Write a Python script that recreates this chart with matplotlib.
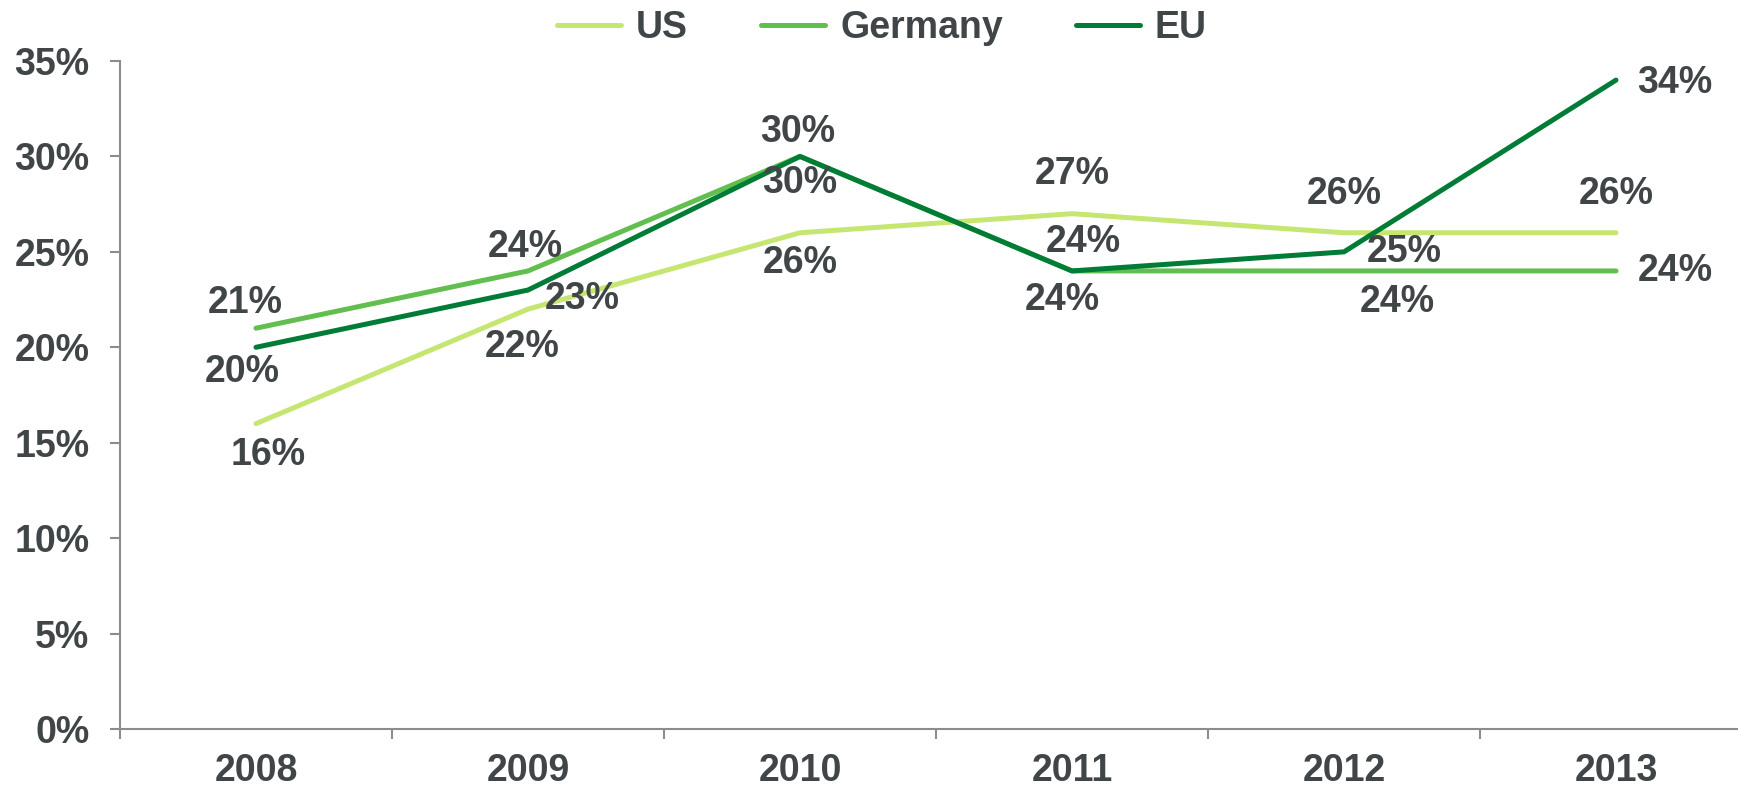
import matplotlib
matplotlib.use("Agg")
import matplotlib.pyplot as plt
from matplotlib.ticker import FixedLocator

years = ["2008", "2009", "2010", "2011", "2012", "2013"]
us = [16, 22, 26, 27, 26, 26]
germany = [21, 24, 30, 24, 24, 24]
eu = [20, 23, 30, 24, 25, 34]
yticks = [0, 5, 10, 15, 20, 25, 30, 35]

series = [("US", us, "#c6e672"), ("Germany", germany, "#62bf4f"), ("EU", eu, "#007c36")]

# label offsets (pixels) per series/point
offsets = {
    "US": [(12, -31), (-6, -38), (0, -30), (0, 40), (0, 39), (0, 39)],
    "Germany": [(-11, 25), (-3, 24), (0, -27), (-10, -29), (53, -31), (59, 0)],
    "EU": [(-14, -25), (54, -9), (-2, 24), (11, 29), (60, 0), (59, -3)],
}

TXT = "#404548"
AX = "#8c8c8c"
FS = 27
plt.rcParams['font.family'] = ['Liberation Sans', 'DejaVu Sans']

fig = plt.figure(figsize=(17.38, 7.88), dpi=100)
ax = fig.add_axes([120 / 1738, 59 / 788, 1632 / 1738, 668 / 788])
x = list(range(len(years)))

for name, vals, col in series:
    ax.plot(x, vals, color=col, lw=3.6, solid_capstyle="round", solid_joinstyle="round", label=name)
    for i, v in enumerate(vals):
        dx, dy = offsets[name][i]
        ax.annotate(f"{v}%", (i, v), xytext=(dx, dy), textcoords="offset pixels",
                    ha="center", va="center", fontsize=FS, fontweight="bold", color=TXT)

ax.set_xlim(-0.5, 5.5)
ax.set_ylim(0, 35)
ax.set_yticks(yticks)
ax.set_yticklabels([f"{t}%" for t in yticks])
ax.set_xticks(x)
ax.set_xticklabels(years)
ax.xaxis.set_minor_locator(FixedLocator([-0.5, 0.5, 1.5, 2.5, 3.5, 4.5, 5.5]))
ax.tick_params(axis="x", which="major", length=0, pad=17, labelsize=FS, labelcolor=TXT)
ax.tick_params(axis="x", which="minor", length=7, width=1.5, color=AX, direction="out")
ax.tick_params(axis="y", length=7, width=1.5, color=AX, pad=15, labelsize=FS, labelcolor=TXT)
for lab in ax.get_xticklabels() + ax.get_yticklabels():
    lab.set_fontweight("bold")
for s in ["top", "right"]:
    ax.spines[s].set_visible(False)
for s in ["left", "bottom"]:
    ax.spines[s].set_color(AX)
    ax.spines[s].set_linewidth(1.5)

leg = fig.legend(loc="center", bbox_to_anchor=(0.5075, 0.964), ncol=3, frameon=False,
                 prop={"size": FS, "weight": "bold"}, handlelength=1.7, handletextpad=0.4,
                 columnspacing=1.95)
for t in leg.get_texts():
    t.set_color(TXT)

fig.savefig("out.png", dpi=100)
